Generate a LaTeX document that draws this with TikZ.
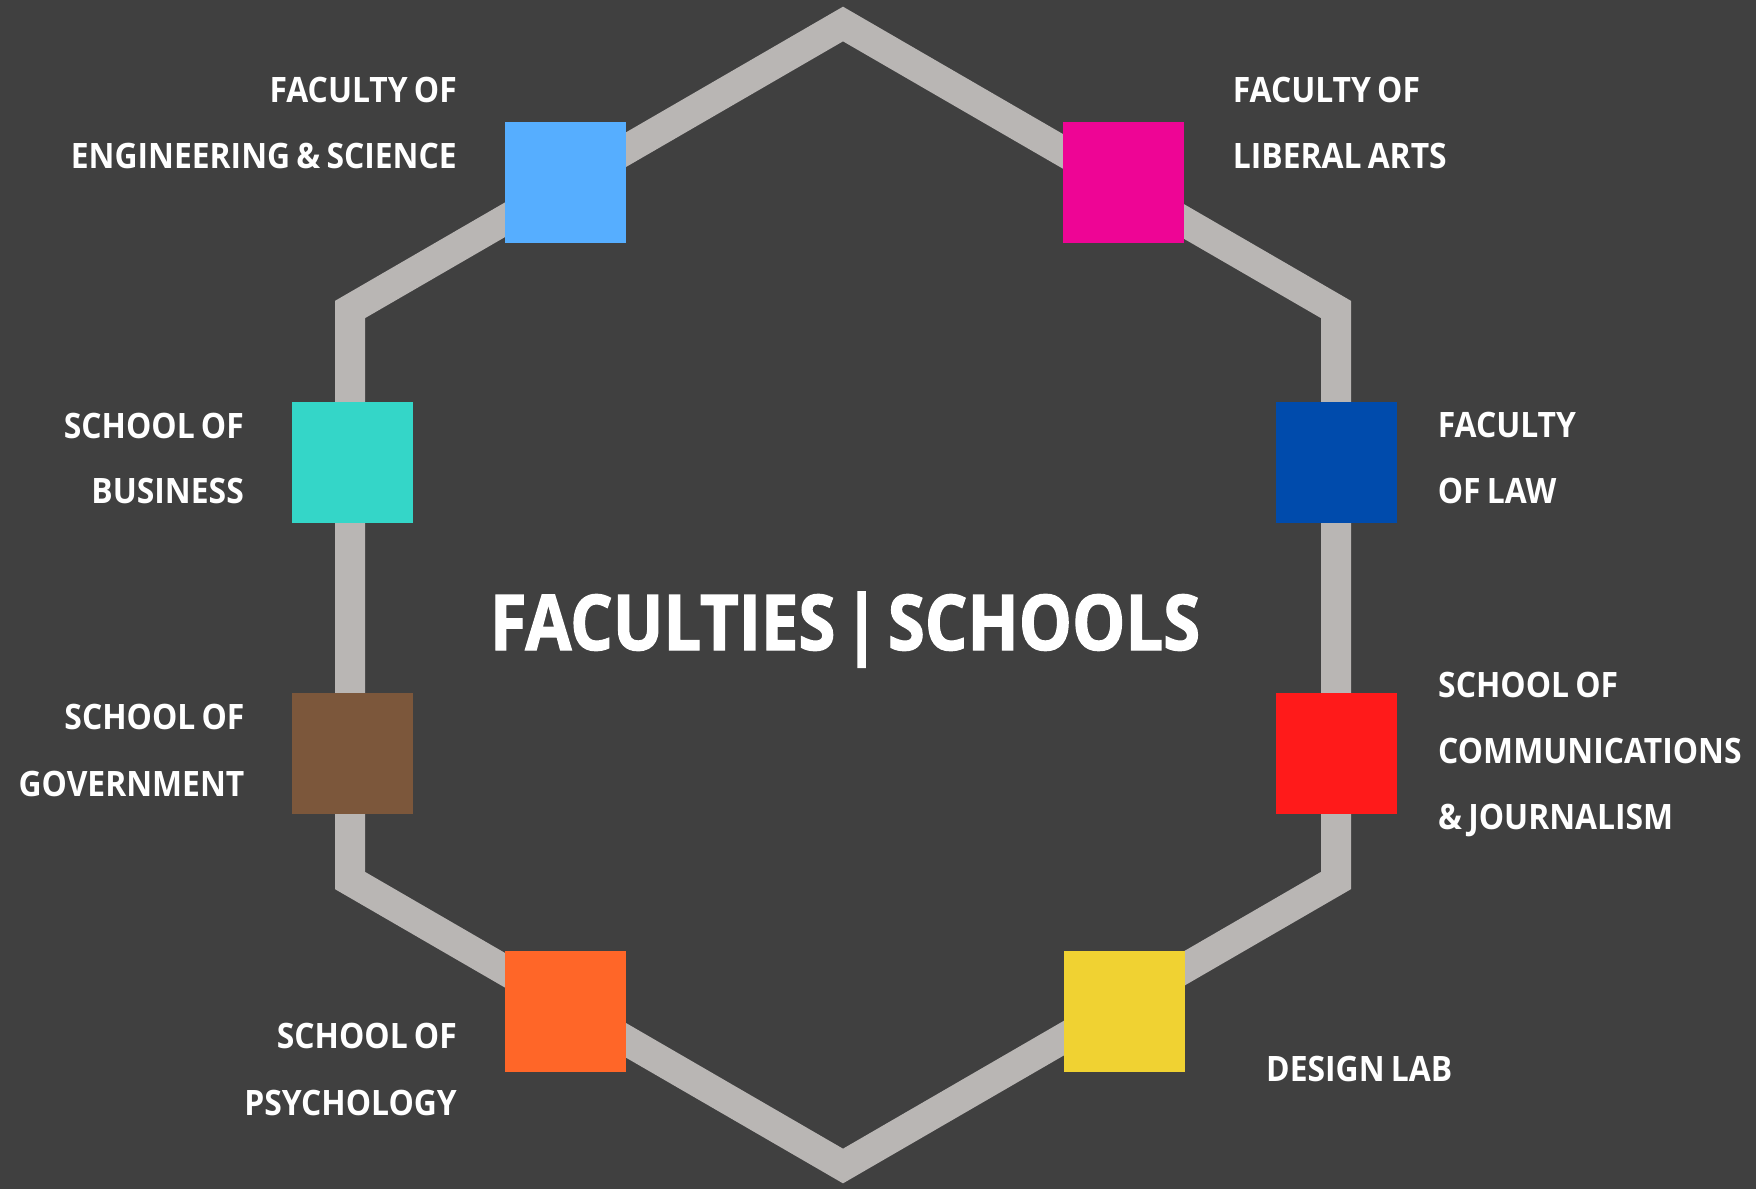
\documentclass[tikz,border=0pt]{standalone}
\usepackage{fontspec}
\setmainfont{Open Sans}
\newfontfamily\labfamily{Open Sans}[FakeStretch=0.91, WordSpace=0.75]
\newfontfamily\titlefamily{Open Sans}[FakeStretch=0.87, FakeBold=1.6, WordSpace=0.45]
\definecolor{bgc}{HTML}{404040}
\definecolor{hexc}{HTML}{B9B6B4}
\definecolor{cEng}{HTML}{56AEFF}
\definecolor{cLib}{HTML}{EE0595}
\definecolor{cBus}{HTML}{34D6C8}
\definecolor{cLaw}{HTML}{004BAC}
\definecolor{cGov}{HTML}{7C573B}
\definecolor{cCom}{HTML}{FF1A1A}
\definecolor{cPsy}{HTML}{FF6628}
\definecolor{cDes}{HTML}{F0D232}
\tikzset{
  hexline/.style={draw=hexc, line width=30pt, line join=miter},
  sq/.style={minimum size=121pt, inner sep=0pt, outer sep=0pt},
  lab/.style={text=white, inner sep=0pt, font=\labfamily\bfseries\fontsize{35}{42}\selectfont},
  labl/.style={lab, anchor=base east},
  labr/.style={lab, anchor=base west},
  ttl/.style={text=white, inner sep=0pt, anchor=base, font=\titlefamily\bfseries\fontsize{77}{90}\selectfont}
}
\begin{document}
\begin{tikzpicture}[x=1pt,y=-1pt]
\fill[bgc] (0,0) rectangle (1756,1189);
\useasboundingbox (0,0) rectangle (1756,1189);
% hexagon
\coordinate (vT) at (843,24);
\coordinate (vUR) at (1336,309.5);
\coordinate (vLR) at (1336,880.5);
\coordinate (vB) at (843,1166);
\coordinate (vLL) at (350,880.5);
\coordinate (vUL) at (350,309.5);
\draw[hexline] (vT) -- (vUR) -- (vLR) -- (vB) -- (vLL) -- (vUL) -- cycle;
% squares
\node[sq, fill=cEng] (sEng) at (565,182) {};
\node[sq, fill=cLib] (sLib) at (1123.5,182) {};
\node[sq, fill=cBus] (sBus) at (352,462) {};
\node[sq, fill=cLaw] (sLaw) at (1336,462) {};
\node[sq, fill=cGov] (sGov) at (352,753) {};
\node[sq, fill=cCom] (sCom) at (1336,753) {};
\node[sq, fill=cPsy] (sPsy) at (565,1011) {};
\node[sq, fill=cDes] (sDes) at (1124,1011) {};
% left labels
\node[labl] (tEng1) at (457,102.6) {FACULTY OF};
\node[labl] (tEng2) at (457,168.4) {ENGINEERING \& SCIENCE};
\node[labl] (tBus1) at (244,438) {SCHOOL OF};
\node[labl] (tBus2) at (244,503.6) {BUSINESS};
\node[labl] (tGov1) at (244.6,729.5) {SCHOOL OF};
\node[labl] (tGov2) at (244.6,796) {GOVERNMENT};
\node[labl] (tPsy1) at (457,1048) {SCHOOL OF};
\node[labl] (tPsy2) at (457,1115.5) {PSYCHOLOGY};
% right labels
\node[labr] (tLib1) at (1232.6,102.7) {FACULTY OF};
\node[labr] (tLib2) at (1232.6,168.3) {LIBERAL ARTS};
\node[labr] (tLaw1) at (1437.6,437.7) {FACULTY};
\node[labr] (tLaw2) at (1437.6,503.3) {OF LAW};
\node[labr] (tCom1) at (1438,697) {SCHOOL OF};
\node[labr] (tCom2) at (1438,763.5) {COMMUNICATIONS};
\node[labr] (tCom3) at (1438,829) {\& JOURNALISM};
\node[labr] (tDes) at (1266,1081.5) {DESIGN LAB};
% title
\node[ttl] (title) at (845,650) {FACULTIES | SCHOOLS};
\end{tikzpicture}
\end{document}
